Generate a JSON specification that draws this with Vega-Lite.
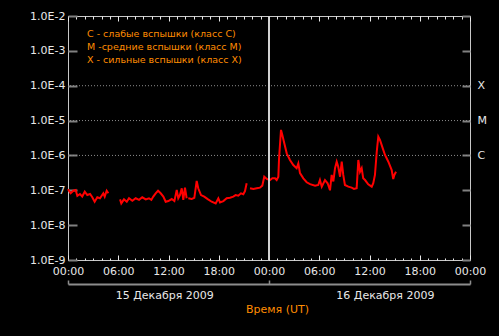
{
  "$schema": "https://vega.github.io/schema/vega-lite/v6.json",
  "width": 402,
  "height": 244,
  "autosize": {"type": "none"},
  "padding": {"left": 68, "top": 16, "right": 29, "bottom": 76},
  "background": "#000000",
  "title": {
    "text": ["C  - слабые вспышки  (класс C)", "M  -средние вспышки (класс M)", "X  - сильные вспышки (класс X)"],
    "orient": "top",
    "anchor": "start",
    "frame": "group",
    "baseline": "top",
    "offset": -54,
    "dx": 19,
    "color": "#ff8c00",
    "font": "DejaVu Sans",
    "fontSize": 9.5,
    "fontWeight": "normal",
    "lineHeight": 13
  },
  "config": {
    "view": {"stroke": "#c8c8c8", "strokeWidth": 1},
    "font": "DejaVu Sans",
    "axis": {
      "labelFont": "DejaVu Sans",
      "labelFontSize": 11,
      "labelColor": "#e8e8e8",
      "domain": false,
      "grid": false,
      "labelOverlap": false,
      "labelFlush": false,
      "labelBound": false,
      "titleFont": "DejaVu Sans"
    }
  },
  "datasets": {
    "goes": [
      {"time": "2009-12-15T00:00:00Z", "flux": 1.07e-7},
      {"time": "2009-12-15T00:19:00Z", "flux": 8.2e-8},
      {"time": "2009-12-15T00:38:00Z", "flux": 9.7e-8},
      {"time": "2009-12-15T00:55:00Z", "flux": 1.02e-7},
      {"time": "2009-12-15T01:07:00Z", "flux": 6.9e-8},
      {"time": "2009-12-15T01:26:00Z", "flux": 7.8e-8},
      {"time": "2009-12-15T01:42:00Z", "flux": 6.6e-8},
      {"time": "2009-12-15T02:00:00Z", "flux": 9.1e-8},
      {"time": "2009-12-15T02:18:00Z", "flux": 7.3e-8},
      {"time": "2009-12-15T02:38:00Z", "flux": 7.8e-8},
      {"time": "2009-12-15T02:54:00Z", "flux": 6.3e-8},
      {"time": "2009-12-15T03:11:00Z", "flux": 4.7e-8},
      {"time": "2009-12-15T03:30:00Z", "flux": 6.3e-8},
      {"time": "2009-12-15T03:49:00Z", "flux": 5.9e-8},
      {"time": "2009-12-15T04:13:00Z", "flux": 8.2e-8},
      {"time": "2009-12-15T04:23:00Z", "flux": 6.6e-8},
      {"time": "2009-12-15T04:37:00Z", "flux": 9.7e-8},
      {"time": "2009-12-15T04:49:00Z", "flux": 8.2e-8},
      {"time": "2009-12-15T05:30:00Z", "flux": null},
      {"time": "2009-12-15T06:13:00Z", "flux": 5.5e-8},
      {"time": "2009-12-15T06:22:00Z", "flux": 4.2e-8},
      {"time": "2009-12-15T06:41:00Z", "flux": 5.5e-8},
      {"time": "2009-12-15T07:01:00Z", "flux": 4.7e-8},
      {"time": "2009-12-15T07:17:00Z", "flux": 5.9e-8},
      {"time": "2009-12-15T07:41:00Z", "flux": 5.0e-8},
      {"time": "2009-12-15T08:05:00Z", "flux": 5.9e-8},
      {"time": "2009-12-15T08:29:00Z", "flux": 5.3e-8},
      {"time": "2009-12-15T08:52:00Z", "flux": 6.3e-8},
      {"time": "2009-12-15T09:17:00Z", "flux": 5.5e-8},
      {"time": "2009-12-15T09:40:00Z", "flux": 5.9e-8},
      {"time": "2009-12-15T09:57:00Z", "flux": 5.3e-8},
      {"time": "2009-12-15T10:11:00Z", "flux": 6.6e-8},
      {"time": "2009-12-15T10:28:00Z", "flux": 8.2e-8},
      {"time": "2009-12-15T10:45:00Z", "flux": 9.7e-8},
      {"time": "2009-12-15T11:04:00Z", "flux": 8.2e-8},
      {"time": "2009-12-15T11:23:00Z", "flux": 6.6e-8},
      {"time": "2009-12-15T11:40:00Z", "flux": 4.7e-8},
      {"time": "2009-12-15T11:59:00Z", "flux": 4.9e-8},
      {"time": "2009-12-15T12:23:00Z", "flux": 5.6e-8},
      {"time": "2009-12-15T12:42:00Z", "flux": 4.9e-8},
      {"time": "2009-12-15T12:59:00Z", "flux": 1.02e-7},
      {"time": "2009-12-15T13:10:00Z", "flux": 5.9e-8},
      {"time": "2009-12-15T13:22:00Z", "flux": 7.3e-8},
      {"time": "2009-12-15T13:35:00Z", "flux": 1.14e-7},
      {"time": "2009-12-15T13:46:00Z", "flux": 5.3e-8},
      {"time": "2009-12-15T13:58:00Z", "flux": 1.19e-7},
      {"time": "2009-12-15T14:10:00Z", "flux": 5.9e-8},
      {"time": "2009-12-15T14:16:00Z", "flux": null},
      {"time": "2009-12-15T14:22:00Z", "flux": 5.9e-8},
      {"time": "2009-12-15T14:46:00Z", "flux": 5.6e-8},
      {"time": "2009-12-15T15:05:00Z", "flux": 6.1e-8},
      {"time": "2009-12-15T15:22:00Z", "flux": 1.85e-7},
      {"time": "2009-12-15T15:33:00Z", "flux": 1.14e-7},
      {"time": "2009-12-15T15:53:00Z", "flux": 7.3e-8},
      {"time": "2009-12-15T16:16:00Z", "flux": 6.6e-8},
      {"time": "2009-12-15T16:41:00Z", "flux": 5.6e-8},
      {"time": "2009-12-15T17:09:00Z", "flux": 4.7e-8},
      {"time": "2009-12-15T17:38:00Z", "flux": 4.2e-8},
      {"time": "2009-12-15T17:57:00Z", "flux": 5.9e-8},
      {"time": "2009-12-15T18:09:00Z", "flux": 4.5e-8},
      {"time": "2009-12-15T18:33:00Z", "flux": 4.9e-8},
      {"time": "2009-12-15T18:57:00Z", "flux": 5.9e-8},
      {"time": "2009-12-15T19:21:00Z", "flux": 6.1e-8},
      {"time": "2009-12-15T19:44:00Z", "flux": 6.6e-8},
      {"time": "2009-12-15T20:01:00Z", "flux": 7.3e-8},
      {"time": "2009-12-15T20:20:00Z", "flux": 7.0e-8},
      {"time": "2009-12-15T20:39:00Z", "flux": 8.2e-8},
      {"time": "2009-12-15T20:56:00Z", "flux": 7.7e-8},
      {"time": "2009-12-15T21:08:00Z", "flux": 9.5e-8},
      {"time": "2009-12-15T21:20:00Z", "flux": 1.59e-7},
      {"time": "2009-12-15T21:32:00Z", "flux": null},
      {"time": "2009-12-15T21:44:00Z", "flux": 1.14e-7},
      {"time": "2009-12-15T22:08:00Z", "flux": 1.09e-7},
      {"time": "2009-12-15T22:32:00Z", "flux": 1.14e-7},
      {"time": "2009-12-15T22:55:00Z", "flux": 1.19e-7},
      {"time": "2009-12-15T23:12:00Z", "flux": 1.36e-7},
      {"time": "2009-12-15T23:26:00Z", "flux": 2.45e-7},
      {"time": "2009-12-15T23:44:00Z", "flux": 2.11e-7},
      {"time": "2009-12-16T00:07:00Z", "flux": 1.97e-7},
      {"time": "2009-12-16T00:24:00Z", "flux": 2.21e-7},
      {"time": "2009-12-16T00:43:00Z", "flux": 2.21e-7},
      {"time": "2009-12-16T00:55:00Z", "flux": 1.97e-7},
      {"time": "2009-12-16T01:07:00Z", "flux": 2.45e-7},
      {"time": "2009-12-16T01:12:00Z", "flux": 8.3e-7},
      {"time": "2009-12-16T01:26:00Z", "flux": 5.4e-6},
      {"time": "2009-12-16T01:35:00Z", "flux": 3.9e-6},
      {"time": "2009-12-16T01:50:00Z", "flux": 2.2e-6},
      {"time": "2009-12-16T02:07:00Z", "flux": 1.15e-6},
      {"time": "2009-12-16T02:30:00Z", "flux": 7.4e-7},
      {"time": "2009-12-16T02:54:00Z", "flux": 5.3e-7},
      {"time": "2009-12-16T03:18:00Z", "flux": 4.3e-7},
      {"time": "2009-12-16T03:30:00Z", "flux": 5.9e-7},
      {"time": "2009-12-16T03:42:00Z", "flux": 3.1e-7},
      {"time": "2009-12-16T04:06:00Z", "flux": 2.2e-7},
      {"time": "2009-12-16T04:30:00Z", "flux": 1.7e-7},
      {"time": "2009-12-16T04:54:00Z", "flux": 1.5e-7},
      {"time": "2009-12-16T05:30:00Z", "flux": 1.36e-7},
      {"time": "2009-12-16T05:53:00Z", "flux": 1.42e-7},
      {"time": "2009-12-16T06:05:00Z", "flux": 1.97e-7},
      {"time": "2009-12-16T06:18:00Z", "flux": 1.27e-7},
      {"time": "2009-12-16T06:41:00Z", "flux": 1.97e-7},
      {"time": "2009-12-16T07:00:00Z", "flux": 1.59e-7},
      {"time": "2009-12-16T07:17:00Z", "flux": 1.0e-7},
      {"time": "2009-12-16T07:29:00Z", "flux": 2.75e-7},
      {"time": "2009-12-16T07:41:00Z", "flux": 1.8e-7},
      {"time": "2009-12-16T07:53:00Z", "flux": 4.3e-7},
      {"time": "2009-12-16T08:05:00Z", "flux": 6.6e-7},
      {"time": "2009-12-16T08:16:00Z", "flux": 4.75e-7},
      {"time": "2009-12-16T08:29:00Z", "flux": 2.45e-7},
      {"time": "2009-12-16T08:41:00Z", "flux": 6.6e-7},
      {"time": "2009-12-16T08:52:00Z", "flux": 2.75e-7},
      {"time": "2009-12-16T09:04:00Z", "flux": 1.42e-7},
      {"time": "2009-12-16T09:28:00Z", "flux": 1.27e-7},
      {"time": "2009-12-16T09:52:00Z", "flux": 1.19e-7},
      {"time": "2009-12-16T10:09:00Z", "flux": 1.09e-7},
      {"time": "2009-12-16T10:28:00Z", "flux": 1.14e-7},
      {"time": "2009-12-16T10:40:00Z", "flux": 7.4e-7},
      {"time": "2009-12-16T10:52:00Z", "flux": 3.4e-7},
      {"time": "2009-12-16T11:04:00Z", "flux": 4.3e-7},
      {"time": "2009-12-16T11:15:00Z", "flux": 2.2e-7},
      {"time": "2009-12-16T11:28:00Z", "flux": 1.97e-7},
      {"time": "2009-12-16T11:51:00Z", "flux": 1.49e-7},
      {"time": "2009-12-16T12:16:00Z", "flux": 1.27e-7},
      {"time": "2009-12-16T12:27:00Z", "flux": 1.59e-7},
      {"time": "2009-12-16T12:39:00Z", "flux": 2.75e-7},
      {"time": "2009-12-16T12:52:00Z", "flux": 1.28e-6},
      {"time": "2009-12-16T13:03:00Z", "flux": 3.45e-6},
      {"time": "2009-12-16T13:15:00Z", "flux": 2.77e-6},
      {"time": "2009-12-16T13:35:00Z", "flux": 1.6e-6},
      {"time": "2009-12-16T13:51:00Z", "flux": 1.03e-6},
      {"time": "2009-12-16T14:15:00Z", "flux": 6.6e-7},
      {"time": "2009-12-16T14:39:00Z", "flux": 3.8e-7},
      {"time": "2009-12-16T14:50:00Z", "flux": 2.1e-7},
      {"time": "2009-12-16T14:58:00Z", "flux": 2.75e-7},
      {"time": "2009-12-16T15:10:00Z", "flux": 3.4e-7}
    ],
    "classes": [
      {"flux": 1e-6, "cls": "C"},
      {"flux": 1e-5, "cls": "M"},
      {"flux": 1e-4, "cls": "X"}
    ],
    "midnight": [
      {"time": "2009-12-16T00:00:00Z"}
    ]
  },
  "resolve": {"axis": {"x": "independent", "y": "independent"}},
  "layer": [
    {
      "data": {"name": "classes"},
      "mark": {"type": "rule", "strokeDash": [1, 2], "strokeWidth": 1, "color": "#8c8c8c"},
      "encoding": {
        "y": {
          "field": "flux",
          "type": "quantitative",
          "scale": {"type": "log", "domain": [1e-9, 1e-2], "nice": false},
          "axis": {
            "orient": "right",
            "values": [1e-9, 1e-8, 1e-7, 1e-6, 1e-5, 1e-4, 1e-3, 1e-2],
            "tickSize": -8,
            "tickWidth": 2,
            "tickColor": "#808080",
            "labelPadding": 15,
            "labelAlign": "left",
            "labelExpr": "datum.value > 5e-5 && datum.value < 5e-4 ? 'X' : datum.value > 5e-6 && datum.value < 5e-5 ? 'M' : datum.value > 5e-7 && datum.value < 5e-6 ? 'C' : ''",
            "title": null
          }
        }
      }
    },
    {
      "data": {"name": "goes"},
      "mark": {"type": "line", "color": "#ff0000", "strokeWidth": 2},
      "encoding": {
        "x": {
          "field": "time",
          "type": "temporal",
          "scale": {"type": "utc", "nice": false, "domain": [1260835200000, 1261008000000]},
          "axis": {
            "orient": "bottom",
            "values": [1260835200000, 1260856800000, 1260878400000, 1260900000000, 1260921600000, 1260943200000, 1260964800000, 1260986400000, 1261008000000],
            "tickSize": -5,
            "tickColor": "#e8e8e8",
            "labelExpr": "utcFormat(datum.value, '%H:%M')",
            "labelPadding": 10,
            "title": null
          }
        },
        "y": {
          "field": "flux",
          "type": "quantitative",
          "scale": {"type": "log", "domain": [1e-9, 1e-2], "nice": false},
          "axis": {
            "orient": "left",
            "values": [1e-9, 1e-8, 1e-7, 1e-6, 1e-5, 1e-4, 1e-3, 1e-2],
            "tickSize": -9,
            "tickWidth": 2,
            "tickColor": "#808080",
            "labelPadding": 12,
            "labelExpr": "'1.0E-' + format(-log(datum.value) / log(10), '.0f')",
            "title": null
          }
        }
      }
    },
    {
      "data": {"name": "midnight"},
      "mark": {"type": "rule", "color": "#d8d8d8", "strokeWidth": 1},
      "encoding": {
        "x": {
          "field": "time",
          "type": "temporal",
          "scale": {"type": "utc", "nice": false, "domain": [1260835200000, 1261008000000]},
          "axis": {
            "orient": "top",
            "values": [1260835200000, 1260856800000, 1260878400000, 1260900000000, 1260921600000, 1260943200000, 1260964800000, 1260986400000, 1261008000000],
            "tickSize": -5,
            "tickColor": "#e8e8e8",
            "labels": false,
            "title": null
          }
        }
      }
    },
    {
      "data": {"name": "midnight"},
      "mark": {"type": "rule", "color": "#d8d8d8", "strokeWidth": 1},
      "encoding": {
        "x": {
          "field": "time",
          "type": "temporal",
          "scale": {"type": "utc", "nice": false, "domain": [1260835200000, 1261008000000]},
          "axis": {
            "orient": "bottom",
            "values": [1260835200000, 1260838800000, 1260842400000, 1260846000000, 1260849600000, 1260853200000, 1260856800000, 1260860400000, 1260864000000, 1260867600000, 1260871200000, 1260874800000, 1260878400000, 1260882000000, 1260885600000, 1260889200000, 1260892800000, 1260896400000, 1260900000000, 1260903600000, 1260907200000, 1260910800000, 1260914400000, 1260918000000, 1260921600000, 1260925200000, 1260928800000, 1260932400000, 1260936000000, 1260939600000, 1260943200000, 1260946800000, 1260950400000, 1260954000000, 1260957600000, 1260961200000, 1260964800000, 1260968400000, 1260972000000, 1260975600000, 1260979200000, 1260982800000, 1260986400000, 1260990000000, 1260993600000, 1260997200000, 1261000800000, 1261004400000, 1261008000000],
            "tickSize": -2,
            "tickColor": "#e8e8e8",
            "labels": false,
            "title": null
          }
        }
      }
    },
    {
      "data": {"name": "midnight"},
      "mark": {"type": "rule", "color": "#d8d8d8", "strokeWidth": 1},
      "encoding": {
        "x": {
          "field": "time",
          "type": "temporal",
          "scale": {"type": "utc", "nice": false, "domain": [1260835200000, 1261008000000]},
          "axis": {
            "orient": "top",
            "values": [1260835200000, 1260838800000, 1260842400000, 1260846000000, 1260849600000, 1260853200000, 1260856800000, 1260860400000, 1260864000000, 1260867600000, 1260871200000, 1260874800000, 1260878400000, 1260882000000, 1260885600000, 1260889200000, 1260892800000, 1260896400000, 1260900000000, 1260903600000, 1260907200000, 1260910800000, 1260914400000, 1260918000000, 1260921600000, 1260925200000, 1260928800000, 1260932400000, 1260936000000, 1260939600000, 1260943200000, 1260946800000, 1260950400000, 1260954000000, 1260957600000, 1260961200000, 1260964800000, 1260968400000, 1260972000000, 1260975600000, 1260979200000, 1260982800000, 1260986400000, 1260990000000, 1260993600000, 1260997200000, 1261000800000, 1261004400000, 1261008000000],
            "tickSize": -3,
            "tickColor": "#e8e8e8",
            "labels": false,
            "title": null
          }
        }
      }
    },
    {
      "data": {"name": "midnight"},
      "mark": {"type": "rule", "color": "#d8d8d8", "strokeWidth": 1},
      "encoding": {
        "x": {
          "field": "time",
          "type": "temporal",
          "scale": {"type": "utc", "nice": false, "domain": [1260835200000, 1261008000000]},
          "axis": {
            "orient": "bottom",
            "offset": 24,
            "values": [1260876600000, 1260971400000],
            "domain": true,
            "domainColor": "#8c8c8c",
            "domainWidth": 2,
            "ticks": false,
            "labelExpr": "utcFormat(datum.value, '%d') + ' Декабря 2009'",
            "labelPadding": 5,
            "title": "Время (UT)",
            "titleColor": "#ff8c00",
            "titleFontSize": 11,
            "titleFontWeight": "normal",
            "titlePadding": 3,
            "titleX": 209
          }
        }
      }
    },
    {
      "data": {"name": "midnight"},
      "mark": {"type": "rule", "color": "#d8d8d8", "strokeWidth": 1},
      "encoding": {
        "x": {
          "field": "time",
          "type": "temporal",
          "scale": {"type": "utc", "nice": false, "domain": [1260835200000, 1261008000000]},
          "axis": {
            "orient": "bottom",
            "offset": 24,
            "values": [1260835200000, 1260921600000, 1261008000000],
            "domain": false,
            "tickSize": -4,
            "tickWidth": 1.5,
            "tickColor": "#8c8c8c",
            "labels": false,
            "title": null
          }
        }
      }
    }
  ]
}
